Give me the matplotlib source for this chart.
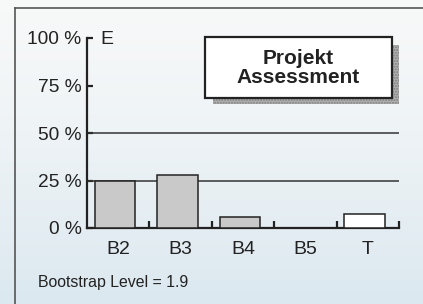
import numpy as np
import matplotlib
matplotlib.use("Agg")
from matplotlib import pyplot as plt
from matplotlib.patches import Rectangle
from matplotlib.lines import Line2D

plt.rcParams['font.family'] = ['Liberation Sans', 'DejaVu Sans']

categories = ['B2', 'B3', 'B4', 'B5', 'T']
values = [25, 28, 6, 0, 7.5]
bar_colors = ['#c9c9c9', '#c9c9c9', '#c9c9c9', '#c9c9c9', 'white']
yticks = [0, 25, 50, 75, 100]
ytick_labels = ['0 %', '25 %', '50 %', '75 %', '100 %']
grid_levels = [25, 50]
title = 'Projekt\nAssessment'
note = 'Bootstrap Level = 1.9'

W, H = 423, 304
fig = plt.figure(figsize=(W / 100, H / 100), dpi=100)


def px(x, y, w=0, h=0):
    # pixel box (top-left origin) -> figure fraction
    return (x / W, 1 - (y + h) / H, w / W, h / H)


# background gradient, drawn pixel for pixel
top = np.array([0.97, 0.975, 0.975])
bot = np.array([0.86, 0.91, 0.94])
t = np.linspace(0, 1, H)[:, None, None] ** 1.3
img = np.broadcast_to(top + (bot - top) * t, (H, W, 3))
fig.figimage(img, xo=0, yo=0, origin='upper', zorder=-10)

# outer frame lines
fig.add_artist(Line2D([15 / W, 1.01], [1 - 8 / H, 1 - 8 / H], color='#555555', lw=1.2))
fig.add_artist(Line2D([15 / W, 15 / W], [-0.01, 1 - 8 / H], color='#555555', lw=1.2))

ax = fig.add_axes([87 / W, 1 - 228 / H, (399 - 87) / W, (228 - 38) / H])
ax.patch.set_alpha(0)

x = np.arange(len(categories))
ax.bar(x + 0.45, values, width=0.65, color=bar_colors, edgecolor='#222222',
       linewidth=1.1, zorder=3)
for g in grid_levels:
    ax.axhline(g, color='#333333', lw=1.1, zorder=2)

ax.set_xlim(0, len(categories))
ax.set_ylim(0, 100)
for s in ['top', 'right']:
    ax.spines[s].set_visible(False)
for s in ['left', 'bottom']:
    ax.spines[s].set_linewidth(1.6)
    ax.spines[s].set_color('#222222')

ax.set_yticks(yticks)
ax.set_yticklabels(ytick_labels, fontsize=13.8, color='#222222')
ax.tick_params(axis='y', direction='in', length=4, width=1.6, pad=4, color='#222222')

ax.set_xticks(np.arange(1, len(categories) + 1))
ax.set_xticklabels([])
ax.tick_params(axis='x', which='major', direction='in', length=5, width=1.6, color='#222222')
ax.set_xticks(x + 0.5, minor=True)
ax.set_xticklabels(categories, minor=True, fontsize=14, color='#222222')
ax.tick_params(axis='x', which='minor', length=0, pad=9)

fig.text(100 / W, 1 - 39 / H, 'E', fontsize=14, color='#222222', va='center', ha='left')

# title box with shadow
sx, sy, sw, sh = px(213, 45, 186, 59)
fig.add_artist(Rectangle((sx, sy), sw, sh, facecolor='#b0b0b0', edgecolor='#808080',
                         lw=0, hatch='......', transform=fig.transFigure, zorder=5))
bx, by, bw, bh = px(205, 37, 187, 61)
fig.add_artist(Rectangle((bx, by), bw, bh, facecolor='white', edgecolor='#222222',
                         lw=1.6, transform=fig.transFigure, zorder=6))
fig.text(bx + bw / 2, by + bh / 2, title, fontsize=15, fontweight='bold',
         ha='center', va='center', linespacing=1.0, color='#222222', zorder=7)

fig.text(38 / W, 1 - 283 / H, note, fontsize=11.4, color='#222222', va='center', ha='left')

fig.savefig('out.png', dpi=100)
